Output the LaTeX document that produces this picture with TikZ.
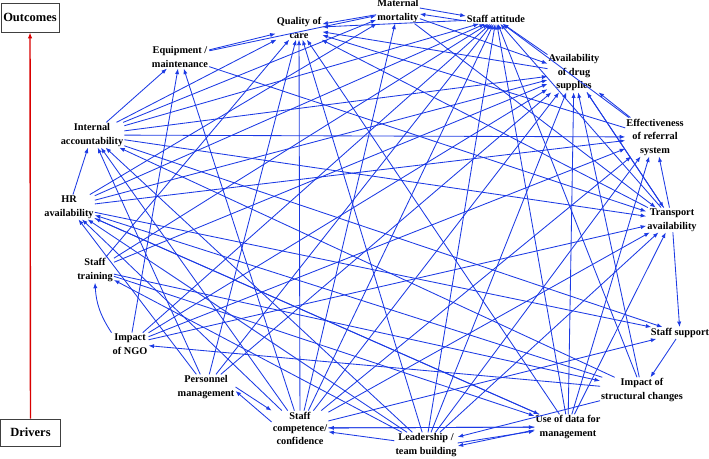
\documentclass[tikz,border=0pt]{standalone}
\usepackage{fontspec}
\setmainfont{Liberation Serif}
\usetikzlibrary{arrows.meta}
\definecolor{linkblue}{RGB}{28,58,228}

\begin{document}
\begin{tikzpicture}[x=1pt,y=-1pt,>={Latex[length=5.5pt,width=4.2pt]},
  factor/.style={font=\bfseries\fontsize{10.3}{13.5}\selectfont,align=center,inner sep=1pt},
  link/.style={->,linkblue,line width=0.85pt},
  legend/.style={draw=black!75,line width=0.8pt,font=\bfseries\fontsize{12.5}{14}\selectfont,inner sep=0pt}]
  \useasboundingbox (0,0) rectangle (709,458);
  % outcomes / drivers
  \node[legend,minimum width=58pt,minimum height=29pt] (out) at (30,17.5) {Outcomes};
  \node[legend,minimum width=60pt,minimum height=27pt] (drv) at (30.5,432.5) {Drivers};
  \draw[->,red!85!black,line width=1.4pt,>={Latex[length=6pt,width=4.5pt]}] (drv) -- (out);
  % factors round the circle
  \node[factor] (Q) at (299,28) {Quality of\\care};
  \node[factor] (MM) at (398,11) {Maternal\\mortality};
  \node[factor] (SA) at (496,19) {Staff attitude};
  \node[factor] (AD) at (574,73) {Availability\\of drug\\supplies};
  \node[factor] (ER) at (655,137) {Effectiveness\\of referral\\system};
  \node[factor] (TA) at (672,220) {Transport\\availability};
  \node[factor] (SS) at (680,333) {Staff support};
  \node[factor] (IS) at (642,390) {Impact of\\structural changes};
  \node[factor] (UD) at (568,427) {Use of data for\\management};
  \node[factor] (LB) at (426,445) {Leadership /\\team building};
  \node[factor,font=\bfseries\fontsize{10.3}{12.5}\selectfont] (SC) at (300,428) {Staff\\competence/\\confidence};
  \node[factor] (PM) at (206,387) {Personnel\\management};
  \node[factor] (NGO) at (130,344) {Impact\\of NGO};
  \node[factor] (ST) at (95,270) {Staff\\training};
  \node[factor] (HR) at (69,207) {HR\\availability};
  \node[factor] (IA) at (92,135) {Internal\\accountability};
  \node[factor] (EM) at (180,57) {Equipment /\\maintenance};
  % links
  \foreach \a/\b in {EM/Q,EM/MM,EM/TA,
      IA/EM,IA/Q,IA/MM,IA/SA,IA/AD,IA/ER,IA/TA,IA/SS,
      HR/IA,HR/SA,HR/AD,HR/MM,HR/ER,HR/SS,HR/UD,
      ST/Q,ST/SA,ST/AD,ST/UD,ST/IS,
      NGO/EM,NGO/SA,NGO/AD,NGO/TA,NGO/ER,
      PM/HR,PM/IA,PM/Q,PM/SA,PM/AD,
      SC/Q,SC/MM,SC/EM,SC/SA,SC/AD,SC/ER,SC/IA,SC/HR,SC/SS,SC/UD,SC/TA,
      LB/SC,LB/Q,LB/SA,LB/AD,LB/ER,LB/TA,LB/IA,LB/HR,LB/ST,
      UD/AD,UD/Q,UD/SA,UD/SC,UD/HR,UD/TA,UD/ER,
      IS/LB,IS/NGO,IS/AD,IS/HR,IS/IA,IS/SA,
      SS/IS,
      TA/SS,TA/ER,TA/SA,TA/Q,TA/AD,
      ER/Q,ER/SA,ER/AD,
      AD/SA,AD/Q,AD/TA,
      SA/Q,MM/Q,MM/TA,MM/AD}
    \draw[link] (\a) -- (\b);
  % two-way pairs, kept apart
  \draw[link] ([yshift=3pt]MM.east) -- ([yshift=3pt]SA.west);
  \draw[link] ([yshift=-2pt]SA.west) -- ([yshift=-3pt]MM.east);
  \draw[link] (PM.east) -- (SC.north west);
  \draw[link] ([yshift=6pt]SC.west) -- ([yshift=-4pt]PM.east);
  \draw[link] ([yshift=2pt]LB.east) -- ([yshift=-4pt]UD.west);
  \draw[link] ([yshift=-3pt]UD.west) -- ([yshift=-1pt]LB.east);
  \draw[link] (NGO.north west) to[bend left=15] (ST.south);
\end{tikzpicture}
\end{document}
